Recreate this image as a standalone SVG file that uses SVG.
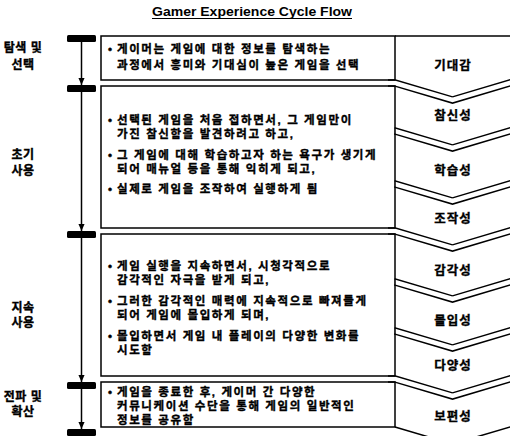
<svg xmlns="http://www.w3.org/2000/svg" width="510" height="436" viewBox="0 0 510 436">
<defs>
<style>
.ko{font-family:"Liberation Sans","Noto Sans CJK KR",sans-serif;font-weight:700;fill:#000;stroke:#000;stroke-width:0.35px}
.bt{font-size:11.5px;letter-spacing:1.6px}
.ph{font-size:12px;text-anchor:middle;letter-spacing:0.5px}
.at{font-size:12.5px;text-anchor:middle;letter-spacing:1px}
.box{fill:none;stroke:#000;stroke-width:1.5}
.cb{fill:none;stroke:#000;stroke-width:7.5}
.cw{fill:none;stroke:#fff;stroke-width:4.5}
.ch{fill:none;stroke:#000;stroke-width:1.5}
.tl{stroke:#000;stroke-width:1.5;marker-end:url(#ah)}
.bar{fill:#000}
</style>
<marker id="ah" viewBox="0 0 8 8" markerWidth="7" markerHeight="7" refX="8" refY="4" orient="auto" markerUnits="userSpaceOnUse">
<path d="M0,0.5 L8,4 L0,7.5 z" fill="#000"/>
</marker>
</defs>
<rect width="510" height="436" fill="#fff"/>

<g id="title">
<text x="252" y="16" text-anchor="middle" textLength="200" lengthAdjust="spacingAndGlyphs" style="font-family:'Liberation Sans',Arial,sans-serif;font-weight:700;font-size:12.5px">Gamer Experience Cycle Flow</text>
<line x1="152" y1="18.5" x2="352" y2="18.5" stroke="#000" stroke-width="1.2"/>
</g>

<g id="connectors">
<line class="tl" x1="81.5" y1="42" x2="81.5" y2="85"/>
<line class="tl" x1="81.5" y1="92" x2="81.5" y2="231"/>
<line class="tl" x1="81.5" y1="238" x2="81.5" y2="382"/>
<line class="tl" x1="81.5" y1="389" x2="81.5" y2="429"/>
<rect class="bar" x="67" y="35" width="29" height="7" rx="1.5"/>
<rect class="bar" x="67" y="85" width="29" height="7" rx="1.5"/>
<rect class="bar" x="67" y="231" width="29" height="7" rx="1.5"/>
<rect class="bar" x="67" y="382" width="29" height="7" rx="1.5"/>
<rect class="bar" x="67" y="429" width="29" height="7" rx="1.5"/>
</g>

<g id="attribute-column">
<line x1="395" y1="36" x2="512" y2="36" stroke="#000" stroke-width="1.5"/>
<polyline class="cb" points="388,83 395,83 452.5,100 520,80"/>
<polyline class="cw" points="388,83 395,83 452.5,100 520,80"/>
<polyline class="cb" points="394.5,131 395,131 452.5,148 520,128"/>
<polyline class="cw" points="394.5,131 395,131 452.5,148 520,128"/>
<polyline class="cb" points="394.5,184 395,184 452.5,201 520,181"/>
<polyline class="cw" points="394.5,184 395,184 452.5,201 520,181"/>
<polyline class="cb" points="388,231 395,231 452.5,248 520,228"/>
<polyline class="cw" points="388,231 395,231 452.5,248 520,228"/>
<polyline class="cb" points="394.5,282 395,282 452.5,299 520,279"/>
<polyline class="cw" points="394.5,282 395,282 452.5,299 520,279"/>
<polyline class="cb" points="394.5,331 395,331 452.5,348 520,328"/>
<polyline class="cw" points="394.5,331 395,331 452.5,348 520,328"/>
<polyline class="cb" points="388,379 395,379 452.5,396 520,376"/>
<polyline class="cw" points="388,379 395,379 452.5,396 520,376"/>
<polyline class="ch" points="395,427 452.5,444 520,424"/>
</g>

<g id="phase-explore">
<text class="ko ph" x="23" y="52">탐색 및</text>
<text class="ko ph" x="23" y="69">선택</text>
<rect class="box" x="101" y="36" width="294" height="44"/>
<text class="ko bt"><tspan x="108" y="53">•</tspan><tspan x="117" y="53">게이머는 게임에 대한 정보를 탐색하는</tspan></text>
<text class="ko bt" x="117" y="69">과정에서 흥미와 기대심이 높은 게임을 선택</text>
</g>

<g id="phase-initial">
<text class="ko ph" x="23" y="159">초기</text>
<text class="ko ph" x="23" y="175">사용</text>
<rect class="box" x="101" y="86" width="294" height="142"/>
<text class="ko bt"><tspan x="108" y="124">•</tspan><tspan x="117" y="124">선택된 게임을 처음 접하면서, 그 게임만이</tspan></text>
<text class="ko bt" x="117" y="138">가진 참신함을 발견하려고 하고,</text>
<text class="ko bt"><tspan x="108" y="159">•</tspan><tspan x="117" y="159">그 게임에 대해 학습하고자 하는 욕구가 생기게</tspan></text>
<text class="ko bt" x="117" y="173">되어 매뉴얼 등을 통해 익히게 되고,</text>
<text class="ko bt"><tspan x="108" y="193">•</tspan><tspan x="117" y="193">실제로 게임을 조작하여 실행하게 됨</tspan></text>
</g>

<g id="phase-continued">
<text class="ko ph" x="23" y="312">지속</text>
<text class="ko ph" x="23" y="327">사용</text>
<rect class="box" x="101" y="234" width="294" height="142"/>
<text class="ko bt"><tspan x="108" y="270">•</tspan><tspan x="117" y="270">게임 실행을 지속하면서, 시청각적으로</tspan></text>
<text class="ko bt" x="117" y="284">감각적인 자극을 받게 되고,</text>
<text class="ko bt"><tspan x="108" y="305">•</tspan><tspan x="117" y="305">그러한 감각적인 매력에 지속적으로 빠져들게</tspan></text>
<text class="ko bt" x="117" y="319">되어 게임에 몰입하게 되며,</text>
<text class="ko bt"><tspan x="108" y="340">•</tspan><tspan x="117" y="340">몰입하면서 게임 내 플레이의 다양한 변화를</tspan></text>
<text class="ko bt" x="117" y="354">시도함</text>
</g>

<g id="phase-spread">
<text class="ko ph" x="23" y="401">전파 및</text>
<text class="ko ph" x="23" y="416">확산</text>
<rect class="box" x="101" y="382" width="294" height="45"/>
<text class="ko bt"><tspan x="108" y="396">•</tspan><tspan x="117" y="396">게임을 종료한 후, 게이머 간 다양한</tspan></text>
<text class="ko bt" x="117" y="410">커뮤니케이션 수단을 통해 게임의 일반적인</text>
<text class="ko bt" x="117" y="424">정보를 공유함</text>
</g>

<g id="attr-expectation"><text class="ko at" x="453" y="70">기대감</text></g>
<g id="attr-novelty"><text class="ko at" x="453" y="120">참신성</text></g>
<g id="attr-learnability"><text class="ko at" x="453" y="175">학습성</text></g>
<g id="attr-operability"><text class="ko at" x="453" y="223">조작성</text></g>
<g id="attr-sensation"><text class="ko at" x="453" y="275">감각성</text></g>
<g id="attr-immersion"><text class="ko at" x="453" y="325">몰입성</text></g>
<g id="attr-diversity"><text class="ko at" x="453" y="370">다양성</text></g>
<g id="attr-universality"><text class="ko at" x="453" y="421">보편성</text></g>
</svg>
